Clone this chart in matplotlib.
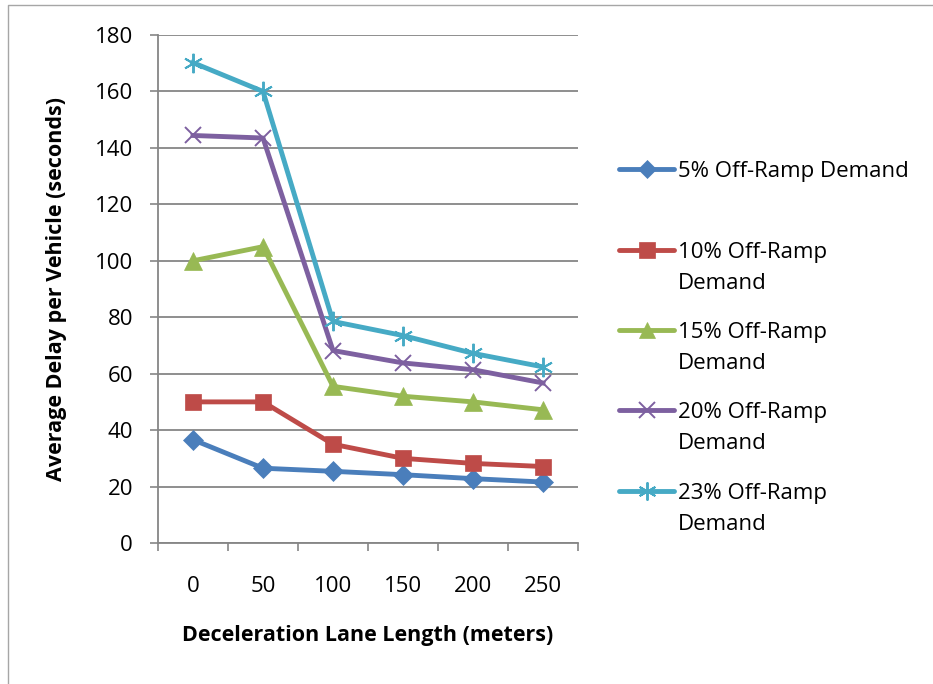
import matplotlib.pyplot as plt
from matplotlib.lines import Line2D

# data
lengths = ['0', '50', '100', '150', '200', '250']
delay_5 = [36.6, 26.5, 25.4, 24.2, 22.8, 21.6]
delay_10 = [50, 50, 35, 30, 28.2, 27.1]
delay_15 = [100, 105, 55.5, 52, 50, 47.2]
delay_20 = [144.4, 143.5, 68.2, 63.8, 61.4, 56.7]
delay_23 = [170.2, 160, 78.5, 73.5, 67.2, 62.4]

series = [
    (delay_5, '5% Off-Ramp Demand', '#4A7EBB', 'D', 10),
    (delay_10, '10% Off-Ramp\nDemand', '#BE4B48', 's', 12),
    (delay_15, '15% Off-Ramp\nDemand', '#98B954', '^', 13),
    (delay_20, '20% Off-Ramp\nDemand', '#7D60A0', 'x', 12),
    (delay_23, '23% Off-Ramp\nDemand', '#46AAC5', (6, 2, 0), 14),
]

plt.rcParams['font.family'] = ['Open Sans', 'DejaVu Sans']
gray = '#868686'
fs = 16

fig = plt.figure(figsize=(9.33, 6.84), dpi=100)
ax = fig.add_axes([158 / 933, 1 - 543 / 684, 420 / 933, 508 / 684])

x = list(range(len(lengths)))
for vals, label, color, marker, ms in series:
    thin = marker in ('x', (6, 2, 0))
    ax.plot(x, vals, color=color, lw=3.5, marker=marker, ms=ms,
            markeredgewidth=1.4 if thin else 0.5,
            markeredgecolor=color, markerfacecolor=color, solid_joinstyle='round')

ax.set_xlim(-0.5, 5.5)
ax.set_ylim(0, 180)
ax.set_yticks(range(0, 181, 20))
ax.set_xticks(x)
ax.set_xticklabels(lengths)
ax.set_xticks([i - 0.5 for i in range(7)], minor=True)
ax.tick_params(axis='x', which='major', length=0, labelsize=fs, pad=24)
ax.tick_params(axis='x', which='minor', length=6, width=1.2, color=gray, direction='out')
ax.tick_params(axis='y', length=6, width=1.2, color=gray, labelsize=fs, pad=12)
ax.grid(axis='y', color=gray, lw=1.3)
ax.set_axisbelow(True)
for s in ['top', 'right']:
    ax.spines[s].set_visible(False)
for s in ['left', 'bottom']:
    ax.spines[s].set_color(gray)
    ax.spines[s].set_linewidth(1.3)

ax.set_xlabel('Deceleration Lane Length (meters)', fontsize=15.5, fontweight='bold')
ax.xaxis.set_label_coords(0.5, -(636 - 543) / 508, transform=ax.transAxes)
ax.xaxis.label.set_va('center')
ax.set_ylabel('Average Delay per Vehicle (seconds)', fontsize=15.5, fontweight='bold')
ax.yaxis.set_label_coords(-(158 - 57) / 420, 0.5)
ax.yaxis.label.set_va('center')

# legend drawn by hand to keep the Excel spacing
legend_y = [169, 250, 330, 410, 491]
for (vals, label, color, marker, ms), yy in zip(series, legend_y):
    yf = 1 - yy / 684
    thin = marker in ('x', (6, 2, 0))
    fig.add_artist(Line2D([619 / 933, 674 / 933], [yf, yf], color=color, lw=3.5,
                          solid_capstyle='round'))
    fig.add_artist(Line2D([647 / 933], [yf], color=color, marker=marker, ms=ms - 1,
                          markeredgewidth=1.4 if thin else 0.5))
    for i, line in enumerate(label.split('\n')):
        fig.text(678 / 933, 1 - (yy + 8 + 31 * i) / 684, line, fontsize=fs,
                 va='baseline', ha='left')

# chart border (left and top edges visible)
fig.add_artist(Line2D([8 / 933, 8 / 933, 1], [0, 1 - 5 / 684, 1 - 5 / 684],
                      color='#A6A6A6', lw=1))

fig.savefig('out.png', dpi=100)
